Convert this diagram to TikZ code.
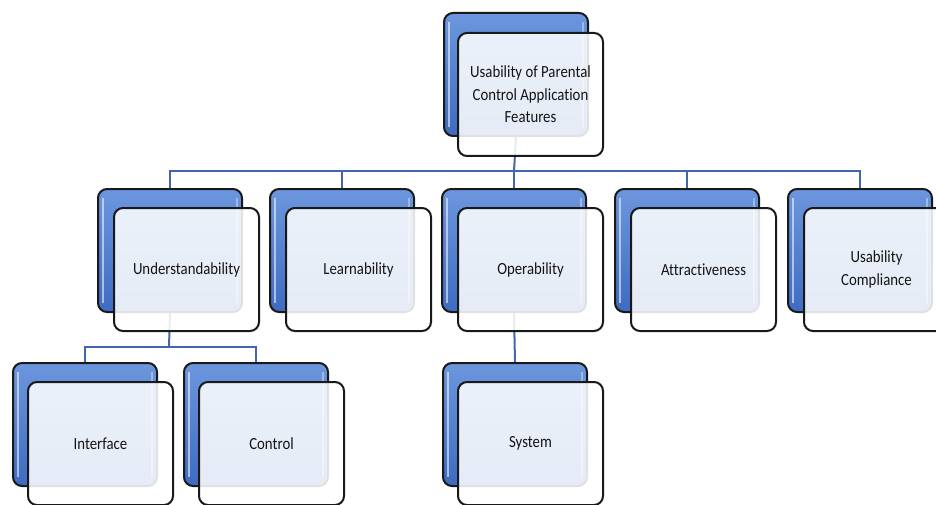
\documentclass[tikz,border=0pt]{standalone}
\usepackage{fontspec}
\setmainfont[FakeStretch=0.87,Ligatures=NoCommon]{Carlito}
\definecolor{blueA}{HTML}{6C97DE}
\definecolor{blueB}{HTML}{3E6BC0}
\definecolor{conn}{HTML}{4266AC}
\definecolor{txt}{HTML}{141414}
\tikzset{
  backbox/.style={draw=black!90, line width=2pt, rounded corners=9pt,
    top color=blueA, bottom color=blueB, anchor=north west,
    minimum width=144pt, minimum height=123pt, inner sep=0pt,
    path picture={\draw[white, opacity=0.55, line width=2.5pt, rounded corners=5pt]
      ([shift={(5pt,-9pt)}]path picture bounding box.north west) --
      ([shift={(5pt,9pt)}]path picture bounding box.south west);
      \draw[white, opacity=0.35, line width=2pt, rounded corners=5pt]
      ([shift={(-5pt,-9pt)}]path picture bounding box.north east) --
      ([shift={(-5pt,9pt)}]path picture bounding box.south east);}},
  frontbox/.style={draw=black!90, line width=2pt, rounded corners=9pt,
    fill=white, fill opacity=0.87, text opacity=1, text=txt,
    anchor=north west, minimum width=145pt, minimum height=123pt,
    inner sep=0pt, align=center, font=\fontsize{17}{22.5}\selectfont},
  link/.style={draw=conn, line width=2pt}
}
\begin{document}
\begin{tikzpicture}[x=1pt,y=-1pt]
\useasboundingbox (0,0) rectangle (936,505);
% back boxes
\node[backbox] (topb) at (443,12) {};
\node[backbox] (ub) at (97,188) {};
\node[backbox] (lb) at (269,188) {};
\node[backbox] (ob) at (441,188) {};
\node[backbox] (ab) at (614,188) {};
\node[backbox] (cb) at (787,188) {};
\node[backbox] (ib) at (12,362) {};
\node[backbox] (ctb) at (183,362) {};
\node[backbox] (sb) at (442,362) {};
% connectors
\coordinate (h1) at (514,171);
\draw[link] (topb.south) -- (h1);
\draw[link] (ub.north) |- (h1);
\draw[link] (cb.north) |- (h1);
\draw[link] (lb.north) -- (lb.north |- h1);
\draw[link] (ob.north) -- (ob.north |- h1);
\draw[link] (ab.north) -- (ab.north |- h1);
\coordinate (h2) at (169,347);
\draw[link] (ub.south) -- (h2);
\draw[link] (ib.north) |- (h2);
\draw[link] (ctb.north) |- (h2);
\draw[link] (ob.south) -- (sb.north);
% front boxes
\node[frontbox] (topf) at (457,32) {Usability of Parental\\Control Application\\Features};
\node[frontbox] (uf) at (113,207) {Understandability};
\node[frontbox] (lf) at (285,207) {Learnability};
\node[frontbox] (of) at (457,207) {Operability};
\node[frontbox] (af) at (630,207) {Attractiveness};
\node[frontbox] (cf) at (803,207) {Usability\\Compliance};
\node[frontbox] (if) at (27,381) {Interface};
\node[frontbox] (ctf) at (198,381) {Control};
\node[frontbox] (sf) at (457,381) {System};
\end{tikzpicture}
\end{document}
